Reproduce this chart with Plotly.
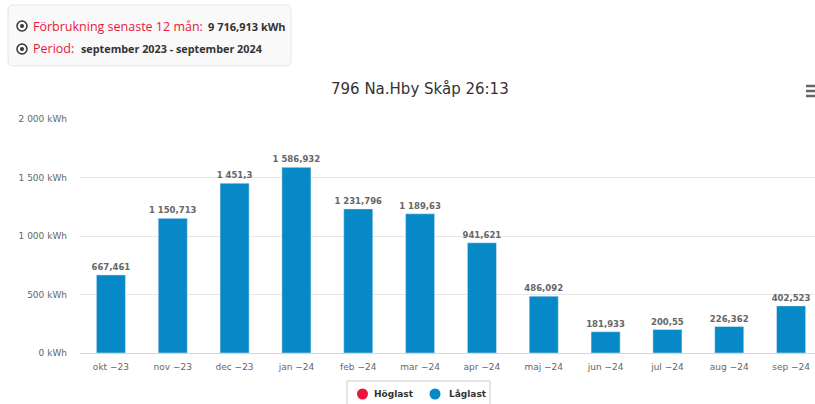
import plotly.graph_objects as go

months = ["okt −23", "nov −23", "dec −23", "jan −24", "feb −24", "mar −24",
          "apr −24", "maj −24", "jun −24", "jul −24", "aug −24", "sep −24"]
laglast = [667.461, 1150.713, 1451.3, 1586.932, 1231.796, 1189.63,
           941.621, 486.092, 181.933, 200.55, 226.362, 402.523]
hoglast = []
y_ticks = [0, 500, 1000, 1500, 2000]
y_tick_labels = ["0 kWh", "500 kWh", "1 000 kWh", "1 500 kWh", "2 000 kWh"]
series_names = ["Höglast", "Låglast"]
title_text = "796 Na.Hby Skåp 26:13"
total_label = "Förbrukning senaste 12 mån:"
total_value = "9 716,913 kWh"
period_label = "Period:"
period_value = "september 2023 - september 2024"

W, H = 815, 404
L, R, T, B = 80, 0, 119, 51
pw, ph = W - L - R, H - T - B


def px(x):
    return (x - L) / pw


def py(y):
    return (H - B - y) / ph


def fmt(v):
    s = f"{v:,.3f}".rstrip("0").rstrip(".")
    return s.replace(",", " ").replace(".", ",")


BLUE = "#0788c7"
RED = "#e8173b"
GREY = "#666666"
FONT = "DejaVu Sans"

fig = go.Figure()
fig.add_trace(go.Bar(
    x=months, y=laglast, marker_color=BLUE, width=0.47, showlegend=False,
    name=series_names[1],
    text=[fmt(v) for v in laglast], textposition="outside", cliponaxis=False,
    constraintext="none",
    textfont=dict(family=FONT, size=8.5, color=GREY, weight="bold"),
    hoverinfo="skip",
))
if hoglast:
    fig.add_trace(go.Bar(x=months, y=hoglast, marker_color=RED, showlegend=False,
                         name=series_names[0]))

shapes = []
# info box (rounded)
x0, x1, y0, y1, r = 8, 291, 5, 66, 5
path = (f"M {px(x0+r)},{py(y0)} L {px(x1-r)},{py(y0)} Q {px(x1)},{py(y0)} {px(x1)},{py(y0+r)} "
        f"L {px(x1)},{py(y1-r)} Q {px(x1)},{py(y1)} {px(x1-r)},{py(y1)} "
        f"L {px(x0+r)},{py(y1)} Q {px(x0)},{py(y1)} {px(x0)},{py(y1-r)} "
        f"L {px(x0)},{py(y0+r)} Q {px(x0)},{py(y0)} {px(x0+r)},{py(y0)} Z")
shapes.append(dict(type="path", path=path, xref="paper", yref="paper",
                   fillcolor="#f9f9f9", line=dict(color="#e6e6e6", width=1), layer="below"))
for cy in (26, 49):
    shapes.append(dict(type="circle", xref="paper", yref="paper",
                       x0=px(17), x1=px(27), y0=py(cy - 5), y1=py(cy + 5),
                       line=dict(color="#333333", width=1.5)))
    shapes.append(dict(type="circle", xref="paper", yref="paper",
                       x0=px(20), x1=px(24), y0=py(cy - 2), y1=py(cy + 2),
                       fillcolor="#333333", line=dict(width=0)))
# hamburger menu
for hy in (86, 91, 96):
    shapes.append(dict(type="line", xref="paper", yref="paper",
                       x0=px(806), x1=px(815), y0=py(hy), y1=py(hy),
                       line=dict(color=GREY, width=2.5)))
# legend box
shapes.append(dict(type="rect", xref="paper", yref="paper",
                   x0=px(347), x1=px(490), y0=py(381), y1=py(410),
                   line=dict(color="#cccccc", width=1), fillcolor="white"))
legend_items = [(362.5, 372, RED, series_names[0]), (435, 447, BLUE, series_names[1])]
for cx, tx, col, name in legend_items:
    shapes.append(dict(type="circle", xref="paper", yref="paper",
                       x0=px(cx - 5.5), x1=px(cx + 5.5), y0=py(394 - 5.5), y1=py(394 + 5.5),
                       fillcolor=col, line=dict(width=0)))

annotations = [
    dict(text=title_text, x=px(420), y=py(89), xref="paper", yref="paper",
         showarrow=False, xanchor="center", yanchor="middle",
         font=dict(family=FONT, size=15, color="#333333")),
    dict(text=total_label, x=px(31), y=py(26), xref="paper", yref="paper",
         showarrow=False, xanchor="left", yanchor="middle",
         font=dict(family="Open Sans", size=12.5, color=RED)),
    dict(text=total_value, x=px(206), y=py(26), xref="paper", yref="paper",
         showarrow=False, xanchor="left", yanchor="middle",
         font=dict(family="Open Sans", size=11, color="#333333", weight="bold")),
    dict(text=period_label, x=px(31), y=py(49), xref="paper", yref="paper",
         showarrow=False, xanchor="left", yanchor="middle",
         font=dict(family="Open Sans", size=12.5, color=RED)),
    dict(text=period_value, x=px(79), y=py(49), xref="paper", yref="paper",
         showarrow=False, xanchor="left", yanchor="middle",
         font=dict(family="Open Sans", size=10.8, color="#333333", weight="bold")),
]
for cx, tx, col, name in legend_items:
    annotations.append(dict(text=name, x=px(tx), y=py(394), xref="paper", yref="paper",
                            showarrow=False, xanchor="left", yanchor="middle",
                            font=dict(family=FONT, size=9, color="#333333", weight="bold")))

fig.update_layout(
    width=W, height=H, margin=dict(l=L, r=R, t=T, b=B, autoexpand=False),
    paper_bgcolor="white", plot_bgcolor="white",
    font=dict(family=FONT, color=GREY),
    shapes=shapes, annotations=annotations,
    showlegend=False,
    xaxis=dict(range=[-0.5, 11.5 - 7 / 61.8], showgrid=False, showline=True,
               linecolor="#ccd6eb", linewidth=1, ticks="", fixedrange=True,
               automargin=False, ticklabelstandoff=5,
               tickfont=dict(family=FONT, size=9, color=GREY)),
    yaxis=dict(range=[0, 2000], tickvals=y_ticks, ticktext=y_tick_labels,
               showgrid=True, gridcolor="#e6e6e6", zeroline=False, showline=False,
               ticks="", ticklabelstandoff=12, fixedrange=True, automargin=False,
               tickfont=dict(family=FONT, size=9, color=GREY)),
)

fig.write_html("out.html", config={"displayModeBar": False},
               post_script="document.body.style.margin='0';document.body.style.overflow='hidden';")
